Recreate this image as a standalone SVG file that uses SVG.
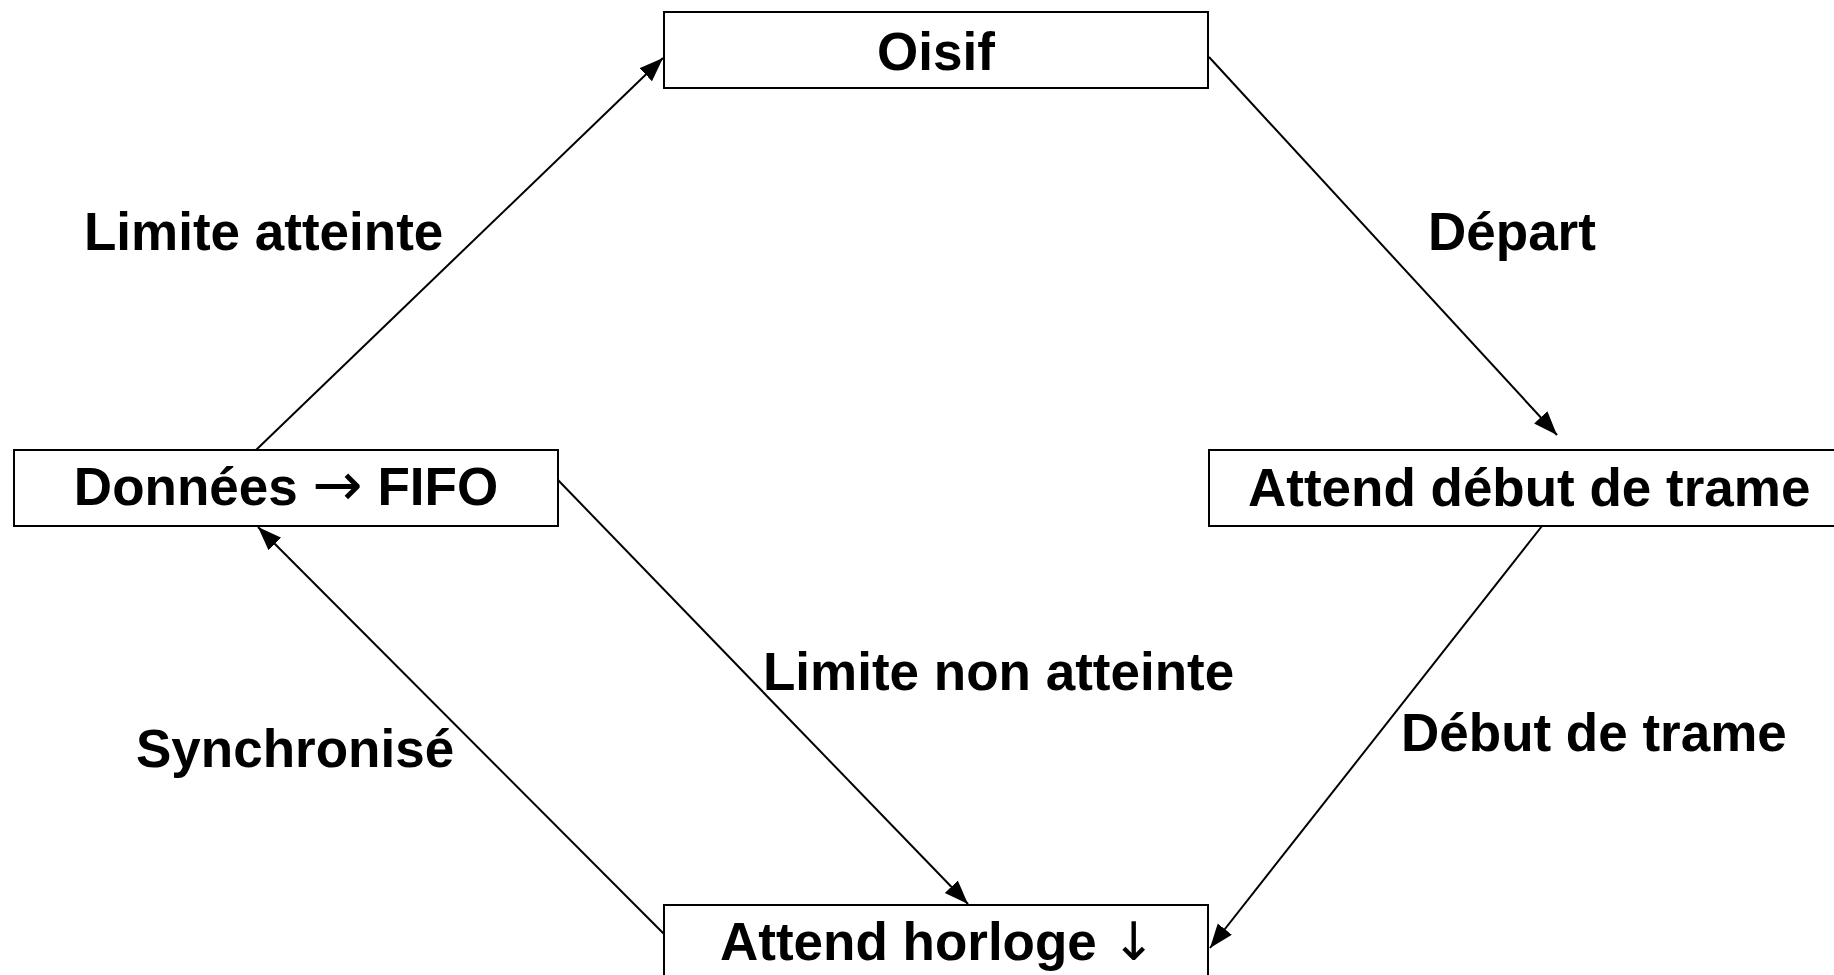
<svg xmlns="http://www.w3.org/2000/svg" width="1834" height="975" viewBox="0 0 1834 975">
<style>
.box{fill:#fff;stroke:#000;stroke-width:2}
.lbl{font-family:"Liberation Sans",Arial,sans-serif;font-weight:bold;font-size:53px;fill:#000}
.sym{font-family:"DejaVu Sans",sans-serif;font-weight:normal}
.edge{stroke:#000;stroke-width:2;fill:none;marker-end:url(#arr)}
</style>
<defs>
<marker id="arr" markerUnits="userSpaceOnUse" markerWidth="26" markerHeight="20" refX="24" refY="9" orient="auto">
<path d="M0,0 L24,9 L0,18 z" fill="#000"/>
</marker>
</defs>
<rect width="1834" height="975" fill="#fff"/>
<g id="connectors">
<line class="edge" x1="256" y1="450" x2="663" y2="58"/>
<line class="edge" x1="1209" y1="57" x2="1557" y2="435"/>
<line class="edge" x1="1542" y1="526" x2="1210" y2="948"/>
<line class="edge" x1="558" y1="480" x2="968" y2="904"/>
<line class="edge" x1="664" y1="934" x2="258" y2="527"/>
</g>
<g id="oisif">
<rect class="box" x="664" y="12" width="544" height="76"/>
<text class="lbl" x="936" y="70" text-anchor="middle">Oisif</text>
</g>
<g id="donnees">
<rect class="box" x="14" y="450" width="544" height="76"/>
<text class="lbl" x="286" y="505" text-anchor="middle">Données <tspan class="sym" font-size="60">→</tspan> FIFO</text>
</g>
<g id="attend-debut">
<rect class="box" x="1209" y="450" width="650" height="76"/>
<text class="lbl" x="1248" y="506">Attend début de trame</text>
</g>
<g id="attend-horloge">
<rect class="box" x="664" y="905" width="544" height="90"/>
<text class="lbl" x="938" y="960" text-anchor="middle">Attend horloge <tspan class="sym">↓</tspan></text>
</g>
<g id="labels">
<text class="lbl" x="84" y="250">Limite atteinte</text>
<text class="lbl" x="1428" y="250">Départ</text>
<text class="lbl" x="763" y="690">Limite non atteinte</text>
<text class="lbl" x="1401" y="751">Début de trame</text>
<text class="lbl" x="136" y="767">Synchronisé</text>
</g>
</svg>
